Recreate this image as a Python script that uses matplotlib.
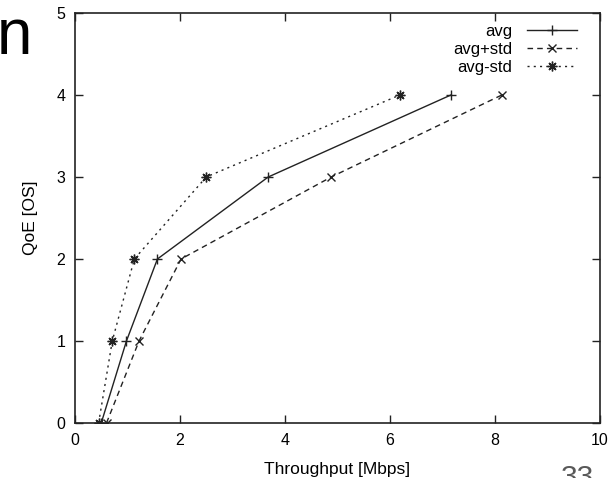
import matplotlib

matplotlib.use("Agg")
import matplotlib.pyplot as plt

plt.rcParams["font.family"] = ["Liberation Sans", "DejaVu Sans"]

# QoE levels (OS) and the throughput needed for each
qoe = [0, 1, 2, 3, 4]
avg = [0.50, 0.98, 1.57, 3.68, 7.16]
avg_plus_std = [0.60, 1.22, 2.02, 4.88, 8.13]
avg_minus_std = [0.45, 0.71, 1.13, 2.50, 6.19]

x_ticks = [0, 2, 4, 6, 8, 10]
y_ticks = [0, 1, 2, 3, 4, 5]

ink = "#222222"

fig = plt.figure(figsize=(6.15, 4.78), dpi=100)
ax = fig.add_axes([75 / 615, 55 / 478, 525 / 615, 410 / 478])

ax.plot(avg, qoe, color=ink, lw=1.0, marker="+", ms=7, mew=1.0, label="avg")
ax.plot(avg_plus_std, qoe, color=ink, lw=1.0, ls=(0, (4, 3)),
        marker="x", ms=6, mew=1.0, label="avg+std")
ax.plot(avg_minus_std, qoe, color=ink, lw=1.0, ls=(0, (1.5, 3)),
        marker=(8, 2, 0), ms=7, mew=1.0, label="avg-std")

ax.set_xlim(0, 10)
ax.set_ylim(0, 5)
ax.set_xticks(x_ticks)
ax.set_yticks(y_ticks)
ax.tick_params(direction="in", length=6, width=1.0, color=ink,
               top=True, right=True, labelsize=11.5, pad=7)
for side in ax.spines.values():
    side.set_color(ink)
    side.set_linewidth(1.2)

ax.set_xlabel("Throughput [Mbps]", fontsize=12.5, labelpad=10)
ax.set_ylabel("QoE [OS]", fontsize=12.5, labelpad=13)

ax.legend(loc="upper right", bbox_to_anchor=(0.956, 0.974),
          frameon=False, markerfirst=False,
          fontsize=12, handlelength=3.0, handletextpad=0.9,
          labelspacing=0.2, borderaxespad=0.0, borderpad=0.0)

# pieces of the slide that frame the chart (cut off in the original too)
fig.text(-3 / 615, 1 - 54 / 478, "n", fontsize=46, color="black",
         ha="left", va="baseline")
fig.text(276 / 615, 1 + 14 / 478, "g", fontsize=46, color="black",
         ha="left", va="baseline")
fig.text(561 / 615, -8 / 478, "33", fontsize=21.5, color="#595959",
         ha="left", va="baseline")

fig.savefig("out.png", dpi=100)
